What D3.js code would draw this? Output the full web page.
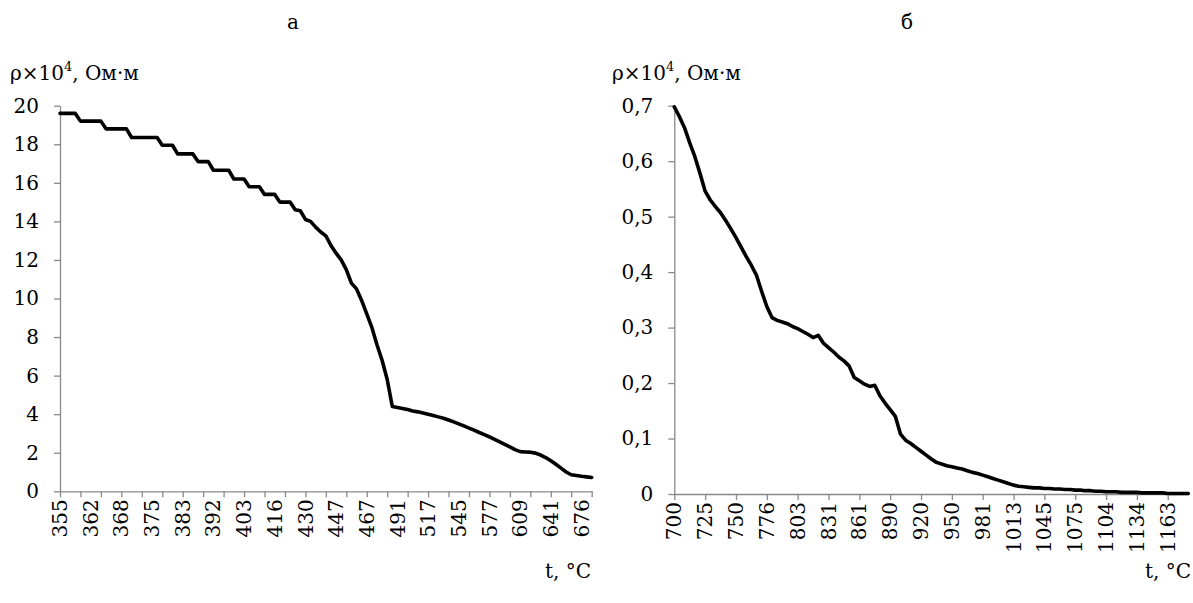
<!DOCTYPE html>
<html>
<head>
<meta charset="utf-8">
<script src="https://cdn.jsdelivr.net/npm/d3@7"></script>
</head>
<body style="margin:0;background:#fff">
<svg width="1193" height="603" font-family="DejaVu Serif, serif"></svg>
<script>
// panel "а": temperature categories and resistivity (x10^4 Ohm*m)
const tempA = [
  355,356,357,358,359,361, 362,363,364,365,366,367,
  368,369,370,371,373,374, 375,376,378,379,380,382,
  383,384,386,387,389,390, 392,394,396,398,399,401,
  403,405,407,409,412,414, 416,418,421,423,425,428,
  430,433,436,439,441,444, 447,450,454,457,460,464,
  467,471,475,479,483,487, 491,495,500,504,508,513,
  517,522,526,531,536,540, 545,550,556,561,566,572,
  577,582,588,593,598,604, 609,614,620,625,630,636,
  641,647,653,659,664,670, 676,682,688
];
const rhoA = [
  19.6,19.6,19.6,19.6,19.2,19.2, 19.2,19.2,19.2,18.8,18.8,18.8,
  18.8,18.8,18.35,18.35,18.35,18.35, 18.35,18.35,17.95,17.95,17.95,17.5,
  17.5,17.5,17.5,17.1,17.1,17.1, 16.65,16.65,16.65,16.65,16.2,16.2,
  16.2,15.8,15.8,15.8,15.4,15.4, 15.4,15.0,15.0,15.0,14.6,14.55,
  14.1,14.0,13.7,13.45,13.25,12.75, 12.35,12.0,11.5,10.8,10.5,9.9,
  9.2,8.5,7.6,6.8,5.8,4.4, 4.35,4.3,4.24,4.17,4.12,4.06,
  4.0,3.93,3.86,3.79,3.7,3.6, 3.5,3.39,3.28,3.17,3.05,2.94,
  2.82,2.69,2.56,2.43,2.3,2.16, 2.06,2.04,2.03,1.98,1.88,1.75,
  1.58,1.4,1.2,1.0,0.86,0.82, 0.78,0.75,0.72
];
const yTicksA = [0, 2, 4, 6, 8, 10, 12, 14, 16, 18, 20];

// panel "б"
const tempB = [
  700,704,708,712,717,721, 725,729,733,737,742,746,
  750,754,759,763,767,772, 776,781,785,790,794,799,
  803,808,812,817,822,826, 831,836,841,846,851,856,
  861,866,871,876,880,885, 890,895,900,905,910,915,
  920,925,930,935,940,945, 950,955,960,966,971,976,
  981,986,992,997,1002,1008, 1013,1018,1024,1029,1034,1040,
  1045,1050,1055,1060,1065,1070, 1075,1080,1085,1090,1094,1099,
  1104,1109,1114,1119,1124,1129, 1134,1139,1144,1149,1153,1158,
  1163,1168,1173,1177,1182
];
const rhoB = [
  0.698,0.680,0.660,0.633,0.608,0.578, 0.546,0.530,0.518,0.507,0.493,0.478,
  0.462,0.445,0.428,0.412,0.394,0.365, 0.338,0.318,0.313,0.310,0.307,0.302,
  0.298,0.293,0.288,0.282,0.286,0.272, 0.264,0.256,0.247,0.240,0.231,0.210,
  0.204,0.198,0.194,0.196,0.177,0.164, 0.152,0.140,0.108,0.097,0.091,0.084,
  0.077,0.070,0.063,0.057,0.054,0.051, 0.049,0.047,0.045,0.042,0.039,0.037,
  0.034,0.031,0.028,0.025,0.022,0.019, 0.016,0.014,0.013,0.012,0.011,0.011,
  0.010,0.010,0.009,0.009,0.008,0.008, 0.007,0.007,0.006,0.006,0.005,0.005,
  0.004,0.004,0.004,0.003,0.003,0.003, 0.003,0.002,0.002,0.002,0.002,0.002,
  0.001,0.001,0.001,0.001,0.001
];
const yTicksB = [0, 0.1, 0.2, 0.3, 0.4, 0.5, 0.6, 0.7];

const svg = d3.select("svg");
const axisColor = "#898989";
const fontSize = 20;
const fmt = d => String(d).replace(".", ",");

function drawPanel(p) {
  const n = p.temps.length;
  const x = d3.scaleLinear().domain([0, n - 1]).range([p.left, p.right]);
  const y = d3.scaleLinear().domain([0, p.yMax]).range([p.bottom, p.top]);

  // panel letter
  svg.append("text")
    .attr("x", p.titleX).attr("y", 29)
    .attr("text-anchor", "middle")
    .attr("font-size", fontSize)
    .text(p.title);

  // y axis title with superscript
  const yt = svg.append("text")
    .attr("x", p.yTitleX).attr("y", 80)
    .attr("font-size", fontSize);
  yt.append("tspan").text("ρ×10");
  yt.append("tspan").attr("dy", -9).attr("font-size", 13).text("4");
  yt.append("tspan").attr("dy", 9).text(", Ом·м");

  // x axis title
  svg.append("text")
    .attr("x", p.xTitleX).attr("y", 578)
    .attr("text-anchor", "end")
    .attr("font-size", fontSize)
    .text("t, °C");

  // y axis
  const gy = svg.append("g")
    .attr("transform", `translate(${p.left},0)`)
    .call(d3.axisLeft(y).tickValues(p.yTicks).tickFormat(fmt)
      .tickSize(6).tickSizeOuter(0).tickPadding(15));
  gy.attr("font-family", null).attr("font-size", fontSize);
  gy.selectAll("path, line").attr("stroke", axisColor).attr("stroke-width", 1.3);
  gy.selectAll("text").attr("fill", "#000");

  // x axis tick marks
  const tickIdx = d3.range(0, n, p.tickEvery);
  const gx = svg.append("g")
    .attr("transform", `translate(0,${p.bottom})`)
    .call(d3.axisBottom(x).tickValues(tickIdx).tickFormat("")
      .tickSize(6).tickSizeOuter(0));
  gx.selectAll("path, line").attr("stroke", axisColor).attr("stroke-width", 1.3);

  // x axis labels (every labelEvery categories)
  const labelIdx = d3.range(0, n, p.labelEvery);
  const gl = svg.append("g")
    .attr("transform", `translate(0,${p.bottom})`)
    .call(d3.axisBottom(x).tickValues(labelIdx).tickFormat(i => p.temps[i])
      .tickSize(0).tickSizeOuter(0));
  gl.attr("font-family", null).attr("font-size", fontSize);
  gl.select(".domain").remove();
  gl.selectAll("text")
    .attr("fill", "#000")
    .attr("transform", "rotate(-90)")
    .attr("text-anchor", "end")
    .attr("x", -8).attr("y", 0).attr("dy", "0.33em");

  // data line
  const line = d3.line()
    .x((d, i) => x(i))
    .y(d => y(d));
  svg.append("path")
    .datum(p.values)
    .attr("d", line)
    .attr("fill", "none")
    .attr("stroke", "#000")
    .attr("stroke-width", 3.6)
    .attr("stroke-linejoin", "round")
    .attr("stroke-linecap", "round");
}

drawPanel({
  title: "а", titleX: 293, yTitleX: 10, xTitleX: 591,
  temps: tempA, values: rhoA, yTicks: yTicksA, yMax: 20,
  left: 60, right: 591.7, top: 105.7, bottom: 491.3,
  tickEvery: 4, labelEvery: 6
});

drawPanel({
  title: "б", titleX: 907, yTitleX: 612, xTitleX: 1191,
  temps: tempB, values: rhoB, yTicks: yTicksB, yMax: 0.7,
  left: 674.3, right: 1188.3, top: 105.7, bottom: 494,
  tickEvery: 6, labelEvery: 6
});
</script>
</body>
</html>
